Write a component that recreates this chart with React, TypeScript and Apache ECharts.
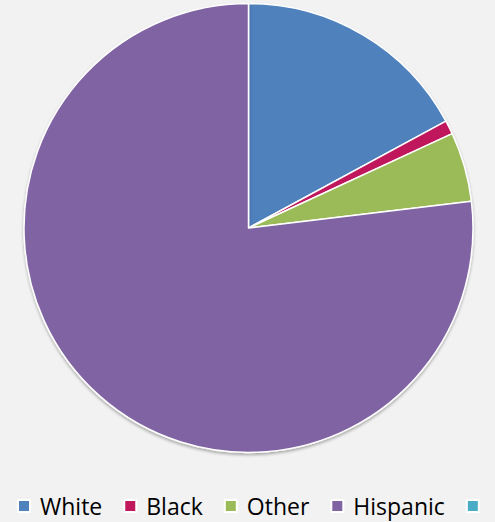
import React, { useEffect, useRef } from "react";
import * as echarts from "echarts";

const categories = ["White", "Black", "Other", "Hispanic", " "];
const values = [17.1, 1.0, 5.0, 76.9, 0];
const colors = ["#4f81bd", "#c0185c", "#9bbb59", "#8064a2", "#4bacc6"];

export default function App() {
  const ref = useRef<HTMLDivElement>(null);
  useEffect(() => {
    if (!ref.current) return;
    const chart = echarts.init(ref.current, null, { renderer: "svg" });
    chart.setOption({
      animation: false,
      backgroundColor: "#f2f2f2",
      color: colors,
      legend: {
        data: categories,
        left: 17,
        top: 494,
        width: 490,
        orient: "horizontal",
        icon: "rect",
        itemWidth: 12,
        itemHeight: 12,
        itemGap: 21,
        padding: 0,
        textStyle: {
          fontFamily: "Open Sans",
          fontSize: 23,
          lineHeight: 24,
          color: "#000",
          padding: [0, 0, 0, 5],
        },
      },
      series: [
        {
          type: "pie",
          center: [248.5, 228],
          radius: 224.5,
          startAngle: 90,
          clockwise: true,
          label: { show: false },
          labelLine: { show: false },
          emphasis: { disabled: true },
          itemStyle: {
            borderColor: "#ffffff",
            borderWidth: 1.5,
            shadowBlur: 3,
            shadowOffsetY: 2,
            shadowColor: "rgba(0,0,0,0.3)",
          },
          data: categories.map((c, i) => ({ name: c, value: values[i] })),
        },
      ],
    });
    return () => chart.dispose();
  }, []);
  return (
    <div
      ref={ref}
      style={{ position: "fixed", left: 0, top: 0, width: 495, height: 522 }}
    />
  );
}
